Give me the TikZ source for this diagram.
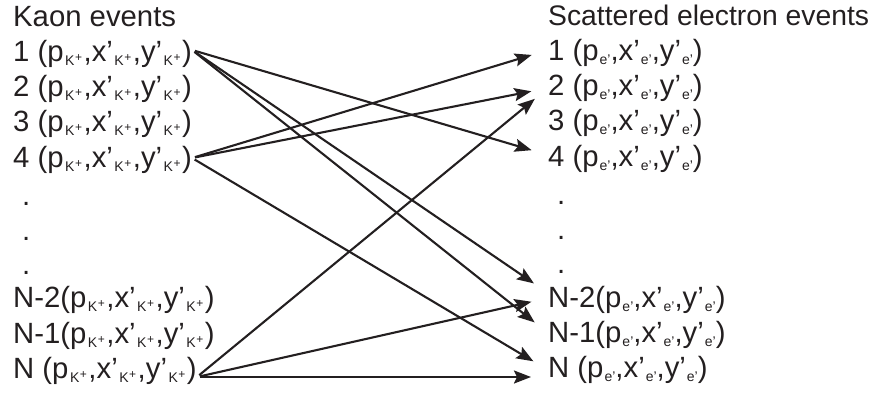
\documentclass[tikz,border=0pt]{standalone}
\usepackage{fontspec}
\setmainfont{Liberation Sans}
\usetikzlibrary{arrows.meta,positioning}
\definecolor{ink}{RGB}{35,31,32}
% small subscripts used in the event tuples
\newcommand{\kplus}{\kern1.5pt\raisebox{-4pt}{\fontsize{14}{14}\selectfont K\kern0.6pt\raisebox{4pt}{\fontsize{12}{12}\selectfont +}}\kern1.5pt}
\newcommand{\eprime}{\kern1pt\raisebox{-4pt}{\fontsize{14}{14}\selectfont e’}}
\newcommand{\kaontuple}{(p\kplus,x’\kplus,y’\kplus)}
\newcommand{\electuple}{(p\eprime,x’\eprime,y’\eprime)}
\tikzset{
    evlabel/.style={anchor=base west, inner sep=0pt, text=ink, font=\fontsize{29.3}{32}\selectfont},
    link/.style={draw=ink, line width=2.1pt, -{Stealth[length=17pt,width=13pt,inset=3pt]},
        shorten <=3pt, shorten >=17pt}
}
\begin{document}
\begin{tikzpicture}[x=1pt,y=-1pt]
            \useasboundingbox (0,0) rectangle (896,399);
            % Kaon events
            \node[evlabel] (ktitle) at (13,26) {Kaon events};
            \foreach \nm/\txt/\yy in {k1/{1 \kaontuple}/61, k2/{2 \kaontuple}/96,
                k3/{3 \kaontuple}/131, k4/{4 \kaontuple}/167,
                kN2/{N-2\kaontuple}/307, kN1/{N-1\kaontuple}/343, kN/{N \kaontuple}/378}
                \node[evlabel] (\nm) at (13,\yy) {\txt};
            \foreach \yy in {205,240,274}
                \node[evlabel] at (22,\yy) {.};
            
            % Scattered electron events
            \node[evlabel, font=\fontsize{28.3}{32}\selectfont] (etitle) at (548,25) {Scattered electron events};
            \foreach \nm/\txt/\yy in {e1/{1 \electuple}/60, e2/{2 \electuple}/95,
                e3/{3 \electuple}/130, e4/{4 \electuple}/166,
                eN2/{N-2\electuple}/307, eN1/{N-1\electuple}/342, eN/{N \electuple}/377}
                \node[evlabel] (\nm) at (548,\yy) {\txt};
            \foreach \yy in {204,239,273}
                \node[evlabel] at (557,\yy) {.};
            
            % pairings
            \draw[link] ([yshift=11pt]k1.base east) -- ([yshift=11pt]e4.base west);
            \draw[link] ([yshift=11pt]k1.base east) -- ([yshift=14pt]eN2.base west);
            \draw[link] ([yshift=11pt]k1.base east) -- ([yshift=9pt]eN1.base west);
            \draw[link] ([yshift=9pt]k4.base east) -- ([yshift=10pt]e1.base west);
            \draw[link] ([yshift=9pt]k4.base east) -- ([yshift=7pt]e2.base west);
            \draw[link] ([yshift=9pt]k4.base east) -- ([yshift=7pt]eN.base west);
            \draw[link] ([yshift=1pt]kN.base east) -- ([yshift=7pt]e2.base west);
            \draw[link] ([yshift=1pt]kN.base east) -- ([yshift=9pt]eN2.base west);
            \draw[link] ([yshift=1pt]kN.base east) -- ([yshift=0pt]eN.base west);
        \end{tikzpicture}
\end{document}
